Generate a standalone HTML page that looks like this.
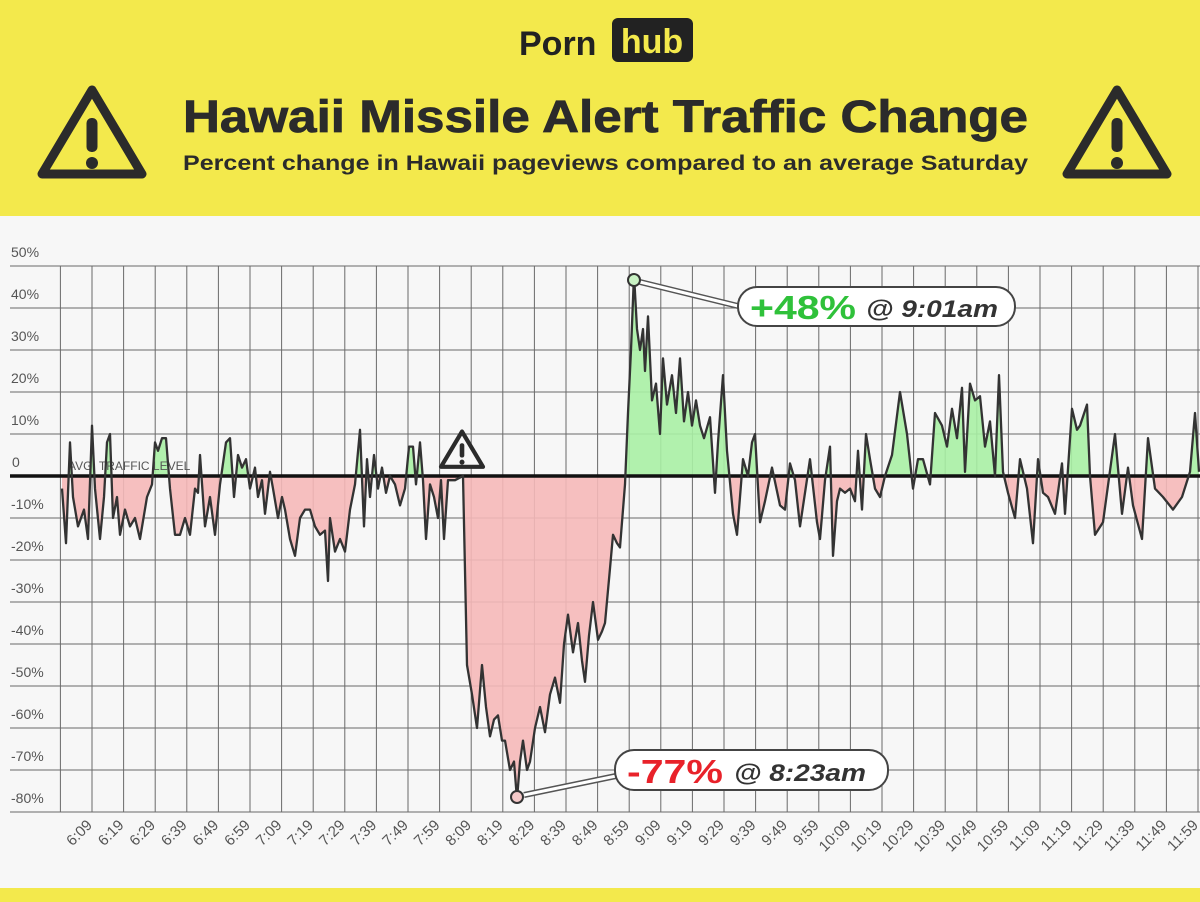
<!DOCTYPE html>
<html><head><meta charset="utf-8"><style>
html,body{margin:0;padding:0;background:#f6f6f6;}
svg{display:block;}
text{font-family:"Liberation Sans",sans-serif;}
</style></head><body>
<svg id="s" width="1200" height="902" viewBox="0 0 1200 902" xmlns="http://www.w3.org/2000/svg">
<defs>
<clipPath id="above"><rect x="0" y="0" width="1200" height="476"/></clipPath>
<clipPath id="below"><rect x="0" y="476" width="1200" height="420"/></clipPath>
<g id="warn"><path d="M0,-44 L50,40 L-50,40 Z" fill="none" stroke="#2b2b2b" stroke-width="9" stroke-linejoin="round"/><rect x="-5.5" y="-16" width="11" height="34" rx="5" fill="#2b2b2b"/><circle cx="0" cy="29" r="6" fill="#2b2b2b"/></g>
</defs>
<rect x="0" y="0" width="1200" height="216" fill="#f3e94c"/>
<rect x="0" y="216" width="1200" height="672" fill="#f7f7f7"/>
<rect x="0" y="888" width="1200" height="14" fill="#f3e94c"/>
<text x="519" y="55" font-size="34" font-weight="bold" fill="#222">Porn</text>
<rect x="612" y="18" width="81" height="44" rx="6" fill="#222"/>
<text x="652" y="53" font-size="34" font-weight="bold" fill="#f3e94c" text-anchor="middle">hub</text>
<text x="183" y="132" font-size="45" font-weight="bold" fill="#2b2b2b" stroke="#2b2b2b" stroke-width="0.8" textLength="845" lengthAdjust="spacingAndGlyphs">Hawaii Missile Alert Traffic Change</text>
<text x="183" y="170" font-size="21" font-weight="bold" fill="#2b2b2b" textLength="845" lengthAdjust="spacingAndGlyphs">Percent change in Hawaii pageviews compared to an average Saturday</text>
<use href="#warn" x="92" y="134"/>
<use href="#warn" x="1117" y="134"/>
<g id="grid" stroke="#6a6a6a" stroke-width="1"></g>
<g id="ylab" font-size="14" fill="#555"></g>
<g id="xlab" font-size="15" fill="#555"></g>
<path id="fillA" clip-path="url(#above)" fill="#a8efa4" opacity="0.9"/>
<path id="fillB" clip-path="url(#below)" fill="#f5b8b8" opacity="0.9"/>
<text x="68" y="470" font-size="12" fill="#555">AVG. TRAFFIC LEVEL</text>
<line x1="10" y1="476" x2="1200" y2="476" stroke="#111" stroke-width="3.5"/>
<path id="line" fill="none" stroke="#333" stroke-width="2.3" stroke-linejoin="round"/>
<g transform="translate(462,450) scale(0.42)"><path d="M0,-44 L50,40 L-50,40 Z" fill="#f7f7f7" stroke="#2b2b2b" stroke-width="10" stroke-linejoin="round"/><rect x="-5.5" y="-16" width="11" height="34" rx="5" fill="#2b2b2b"/><circle cx="0" cy="29" r="6" fill="#2b2b2b"/></g>
<line x1="640" y1="282" x2="742" y2="307" stroke="#555" stroke-width="6"/>
<line x1="640" y1="282" x2="742" y2="307" stroke="#fff" stroke-width="3"/>
<circle cx="634" cy="280" r="6" fill="#c9f2c4" stroke="#333" stroke-width="2"/>
<rect x="738" y="287" width="277" height="39" rx="19" fill="#fff" stroke="#444" stroke-width="2"/>
<text x="750" y="319" font-size="33" font-weight="bold" fill="#2fc13a" textLength="106" lengthAdjust="spacingAndGlyphs">+48%</text>
<text x="866" y="317" font-size="24" font-weight="bold" font-style="italic" fill="#333" textLength="132" lengthAdjust="spacingAndGlyphs">@ 9:01am</text>
<line x1="524" y1="795" x2="616" y2="776" stroke="#555" stroke-width="6"/>
<line x1="524" y1="795" x2="616" y2="776" stroke="#fff" stroke-width="3"/>
<circle cx="517" cy="797" r="6" fill="#f5c9c9" stroke="#333" stroke-width="2"/>
<rect x="615" y="750" width="273" height="40" rx="19" fill="#fff" stroke="#444" stroke-width="2"/>
<text x="627" y="783" font-size="33" font-weight="bold" fill="#e8222a" textLength="96" lengthAdjust="spacingAndGlyphs">-77%</text>
<text x="734" y="781" font-size="24" font-weight="bold" font-style="italic" fill="#333" textLength="132" lengthAdjust="spacingAndGlyphs">@ 8:23am</text>
</svg>
<script>
var NS="http://www.w3.org/2000/svg";
function el(p,n,a,t){var e=document.createElementNS(NS,n);for(var k in a)e.setAttribute(k,a[k]);if(t!=null)e.textContent=t;p.appendChild(e);return e;}
var g=document.getElementById('grid');
for(var k=0;k<=36;k++){var x=60.4+31.6*k;el(g,'line',{x1:x,y1:266,x2:x,y2:812});}
var yl=document.getElementById('ylab');
for(var k=0;k<=13;k++){var y=266+42*k;el(g,'line',{x1:10,y1:y,x2:1200,y2:y});var v=50-10*k;
 if(v!==0)el(yl,'text',{x:11,y:y-9},v+'%');}
el(yl,'text',{x:12,y:467},'0');
var xl=document.getElementById('xlab');
var i=0;for(var h=6;h<=11;h++)for(var m=9;m<60;m+=10){var x=93+31.6*i;
 el(xl,'text',{x:x,y:826,'text-anchor':'end',transform:'rotate(-45 '+x+' 826)'},h+':'+(m<10?'0'+m:m));i++;}
var P=[[62,-3],[66,-16],[70,8],[73,-5],[78,-12],[84,-8],[88,-15],[92,12],[95,-3],[100,-15],[104,-5],[107,8],[110,10],[113,-10],[117,-5],[120,-14],[125,-8],[130,-12],[135,-10],[140,-15],[147,-5],[152,-2],[155,8],[158,6],[162,9],[166,9],[170,-3],[175,-14],[180,-14],[185,-10],[190,-14],[195,-3],[198,-4],[200,5],[205,-12],[210,-5],[215,-14],[220,-2],[226,8],[230,9],[234,-5],[238,5],[242,2],[246,4],[250,-3],[255,2],[258,-5],[262,-1],[265,-9],[270,1],[273,-3],[278,-10],[282,-5],[285,-8],[290,-15],[295,-19],[300,-10],[305,-8],[310,-8],[315,-12],[320,-14],[325,-13],[328,-25],[330,-10],[335,-18],[340,-15],[345,-18],[350,-8],[355,-2],[360,11],[364,-12],[367,4],[370,-5],[374,5],[378,-3],[382,2],[386,-4],[390,0],[395,-2],[400,-7],[405,-3],[409,7],[413,7],[416,-2],[420,8],[423,-1],[426,-15],[430,-2],[434,-5],[438,-10],[441,-1],[444,-15],[448,-1],[455,-1],[463,0],[467,-45],[472,-52],[477,-60],[482,-45],[486,-55],[490,-62],[494,-58],[498,-57],[502,-63],[505,-63],[510,-70],[514,-68],[517,-77],[520,-68],[523,-63],[527,-70],[530,-68],[535,-60],[540,-55],[545,-61],[550,-52],[555,-48],[560,-54],[564,-40],[568,-33],[573,-42],[578,-35],[582,-44],[585,-49],[589,-38],[593,-30],[598,-39],[602,-37],[605,-35],[610,-22],[613,-14],[617,-16],[620,-17],[625,-2],[628,15],[631,30],[634,48],[637,35],[640,30],[643,35],[645,25],[648,38],[652,18],[656,22],[660,10],[663,28],[667,17],[672,24],[676,15],[680,28],[684,13],[688,20],[692,12],[696,18],[700,12],[704,9],[710,14],[715,-4],[718,8],[723,24],[727,6],[733,-9],[737,-14],[743,4],[748,0],[752,8],[755,10],[760,-11],[765,-6],[772,2],[780,-7],[785,-8],[790,3],[795,-1],[800,-12],[805,-4],[810,4],[817,-11],[820,-15],[825,-1],[830,7],[833,-19],[837,-6],[840,-3],[845,-4],[850,-3],[855,-6],[858,6],[862,-8],[866,10],[870,4],[875,-3],[880,-5],[885,0],[892,5],[900,20],[907,10],[913,-3],[918,4],[923,4],[930,-2],[935,15],[942,12],[947,7],[952,16],[957,9],[962,21],[965,1],[970,22],[975,18],[980,19],[985,7],[990,13],[995,0],[999,24],[1003,1],[1008,-4],[1015,-10],[1020,4],[1027,-3],[1033,-16],[1038,4],[1043,-4],[1048,-5],[1055,-9],[1062,3],[1065,-9],[1072,16],[1077,11],[1080,12],[1087,17],[1090,0],[1095,-14],[1103,-11],[1115,10],[1122,-9],[1128,2],[1133,-7],[1142,-15],[1148,9],[1155,-3],[1163,-5],[1173,-8],[1182,-5],[1190,1],[1195,15],[1199,1]];
var d='';P.forEach(function(p,j){d+=(j?'L':'M')+p[0]+','+(476-4.2*p[1]).toFixed(1);});
document.getElementById('line').setAttribute('d',d);
var f='M62,476'+d.replace(/^M/,'L')+'L1199,476Z';
document.getElementById('fillA').setAttribute('d',f);
document.getElementById('fillB').setAttribute('d',f);
</script>
</body></html>
